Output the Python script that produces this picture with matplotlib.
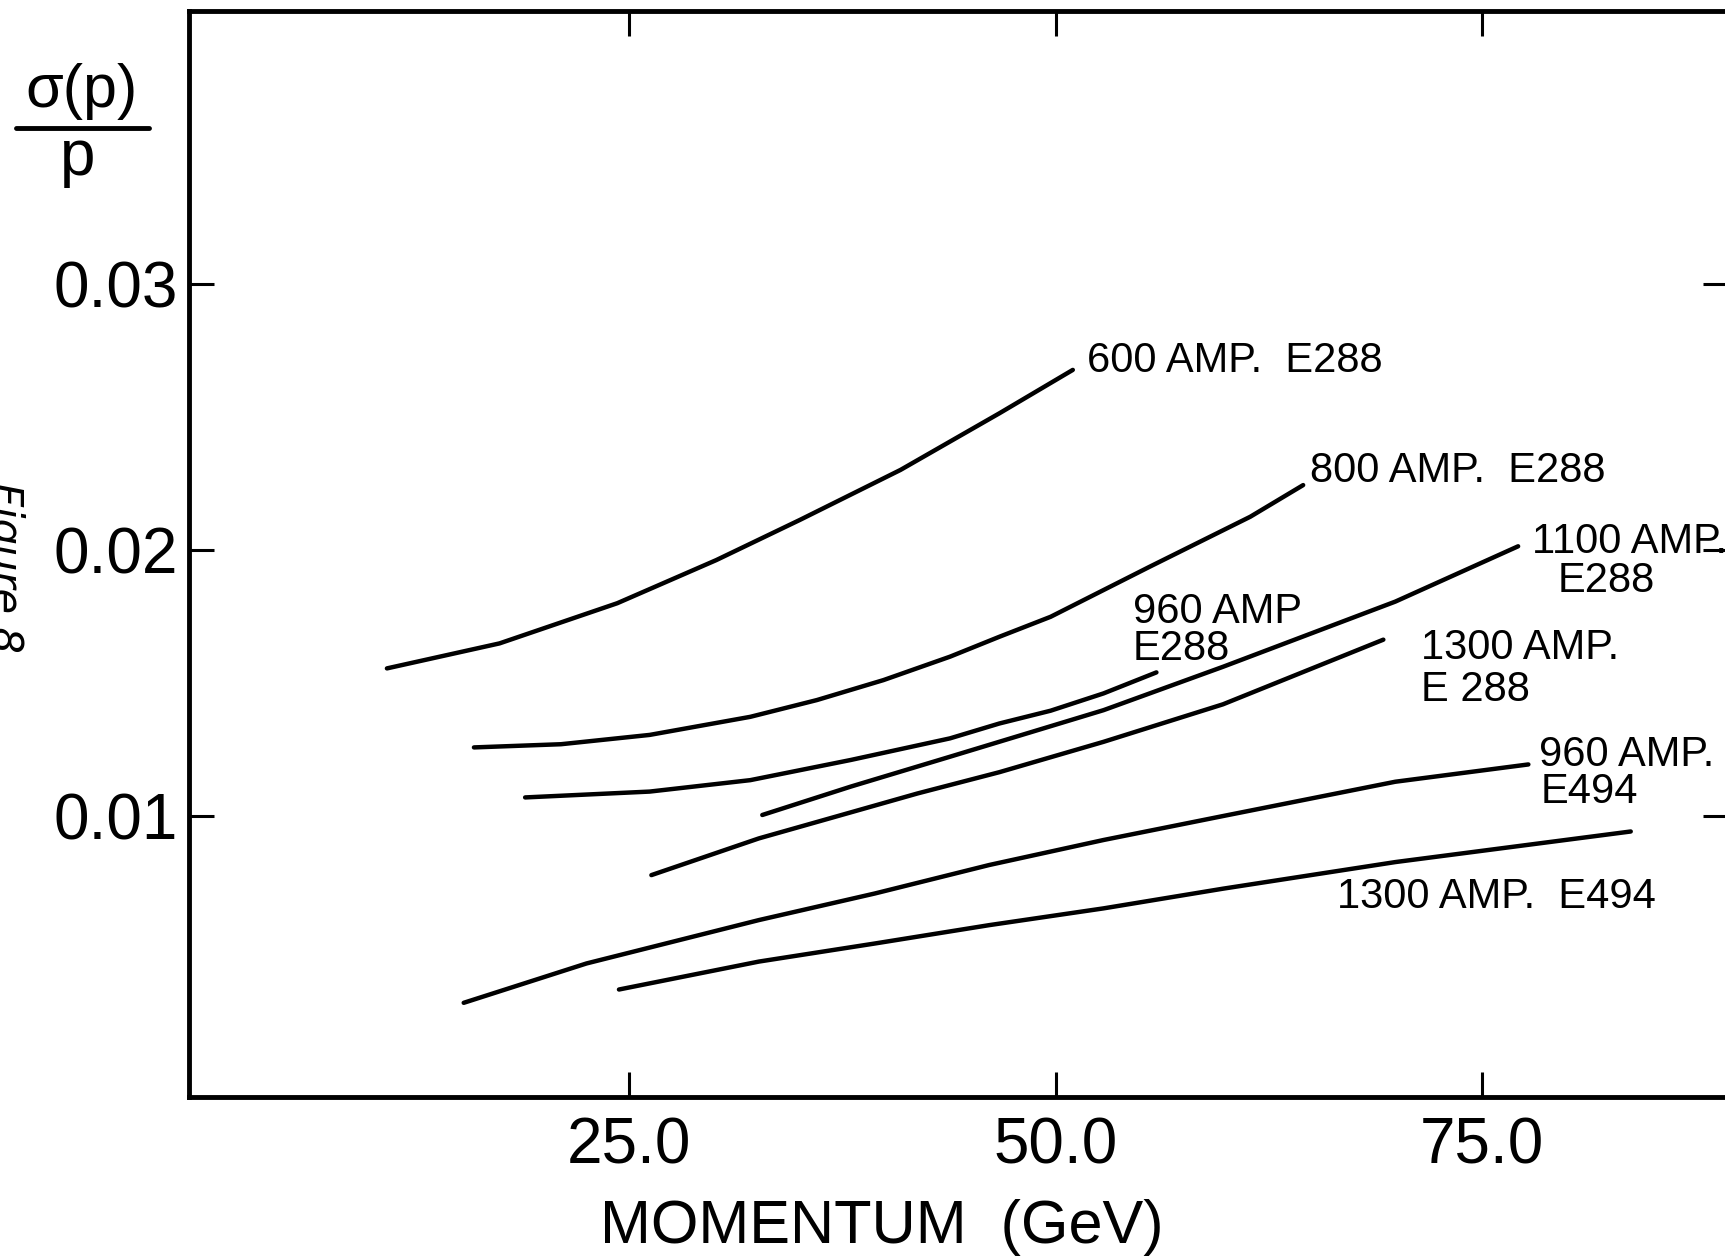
import matplotlib
matplotlib.use('Agg')
import matplotlib.pyplot as plt

# momentum resolution curves
x600 = [10.8, 17.4, 24.3, 30.1, 35.0, 40.9, 46.7, 51.0]
y600 = [0.01555, 0.01649, 0.01800, 0.01962, 0.02113, 0.02301, 0.02514, 0.02677]

x800 = [15.9, 21.0, 26.2, 32.1, 36.0, 39.9, 43.8, 46.7, 49.7, 55.5, 61.4, 64.5]
y800 = [0.01258, 0.01270, 0.01305, 0.01373, 0.01436, 0.01511, 0.01599, 0.01674,
        0.01749, 0.01937, 0.02125, 0.02244]

x960a = [18.9, 26.2, 32.1, 38.0, 43.8, 46.7, 49.7, 52.8, 55.9]
y960a = [0.01070, 0.01092, 0.01135, 0.01211, 0.01292, 0.01348, 0.01396, 0.01461, 0.01540]

x1100 = [32.8, 38.0, 43.8, 52.8, 59.8, 69.9, 77.1]
y1100 = [0.01004, 0.01111, 0.01223, 0.01398, 0.01561, 0.01806, 0.02014]

x1300a = [26.3, 32.6, 36.4, 41.9, 46.7, 52.8, 59.8, 69.2]
y1300a = [0.00778, 0.00916, 0.00985, 0.01085, 0.01165, 0.01279, 0.01420, 0.01663]

x960b = [15.3, 22.5, 32.6, 39.4, 46.1, 52.8, 59.8, 69.9, 77.7]
y960b = [0.00298, 0.00446, 0.00609, 0.00709, 0.00816, 0.00910, 0.01000, 0.01129, 0.01194]

x1300b = [24.4, 32.6, 39.4, 46.1, 52.8, 59.8, 69.9, 83.7]
y1300b = [0.00348, 0.00453, 0.00521, 0.00590, 0.00653, 0.00727, 0.00827, 0.00942]

curves = [(x600, y600), (x800, y800), (x960a, y960a), (x1100, y1100),
          (x1300a, y1300a), (x960b, y960b), (x1300b, y1300b)]

# curve labels: text, x, y
labels = [("600 AMP.  E288", 51.85, 0.0271),
          ("800 AMP.  E288", 64.9, 0.02297),
          ("1100 AMP.", 77.9, 0.0203),
          ("E288", 79.4, 0.01883),
          ("960 AMP", 54.5, 0.01768),
          ("E288", 54.5, 0.01628),
          ("1300 AMP.", 71.4, 0.01632),
          ("E 288", 71.4, 0.01474),
          ("960 AMP.", 78.3, 0.01231),
          ("E494", 78.4, 0.0109),
          ("1300 AMP.  E494", 66.5, 0.00697)]

xticks = [25, 50, 75]
xticklabels = ["25.0", "50.0", "75.0"]
yticks = [0.01, 0.02, 0.03]
yticklabels = ["0.01", "0.02", "0.03"]

plt.rcParams['font.family'] = ['Liberation Sans', 'DejaVu Sans']

W, H = 1725, 1259
fig = plt.figure(figsize=(W / 100, H / 100), dpi=100)
L, R, B, T = 189, 1728, 1097, 11
ax = fig.add_axes([L / W, 1 - B / H, (R - L) / W, (B - T) / H])

for xs, ys in curves:
    ax.plot(xs, ys, color='black', lw=3.2, solid_capstyle='round',
            solid_joinstyle='round')

for txt, x, y in labels:
    ax.text(x, y, txt, fontsize=30, ha='left', va='center', color='black')

ax.set_xlim(-0.8, 89.4)
ax.set_ylim(-0.00056, 0.04026)
ax.set_xticks(xticks)
ax.set_xticklabels(xticklabels)
ax.set_yticks(yticks)
ax.set_yticklabels(yticklabels)
ax.tick_params(direction='in', length=18, width=2.2, labelsize=46,
               top=True, right=True)
ax.tick_params(axis='x', pad=14)
ax.tick_params(axis='y', pad=8)
for s in ax.spines.values():
    s.set_linewidth(3.5)

# axis titles
fig.text(882 / W, 1 - 1227 / H, "MOMENTUM  (GeV)", fontsize=44,
         ha='center', va='center')
fig.text(82 / W, 1 - 107 / H, "σ(p)", fontsize=44, ha='center', va='baseline')
fig.text(78 / W, 1 - 175 / H, "p", fontsize=46, ha='center', va='baseline')
fig.add_artist(plt.Line2D([16 / W, 149 / W], [1 - 128 / H, 1 - 128 / H],
                          color='black', lw=3.5, solid_capstyle='round'))

# handwritten figure number on the left edge (cut off in the scan)
fig.text(4 / W, 1 - 567 / H, "Figure 8", fontsize=30, rotation=-90,
         ha='center', va='center', style='italic', family='DejaVu Sans',
         fontweight='light')

fig.savefig('out.png', dpi=100, facecolor='white')
